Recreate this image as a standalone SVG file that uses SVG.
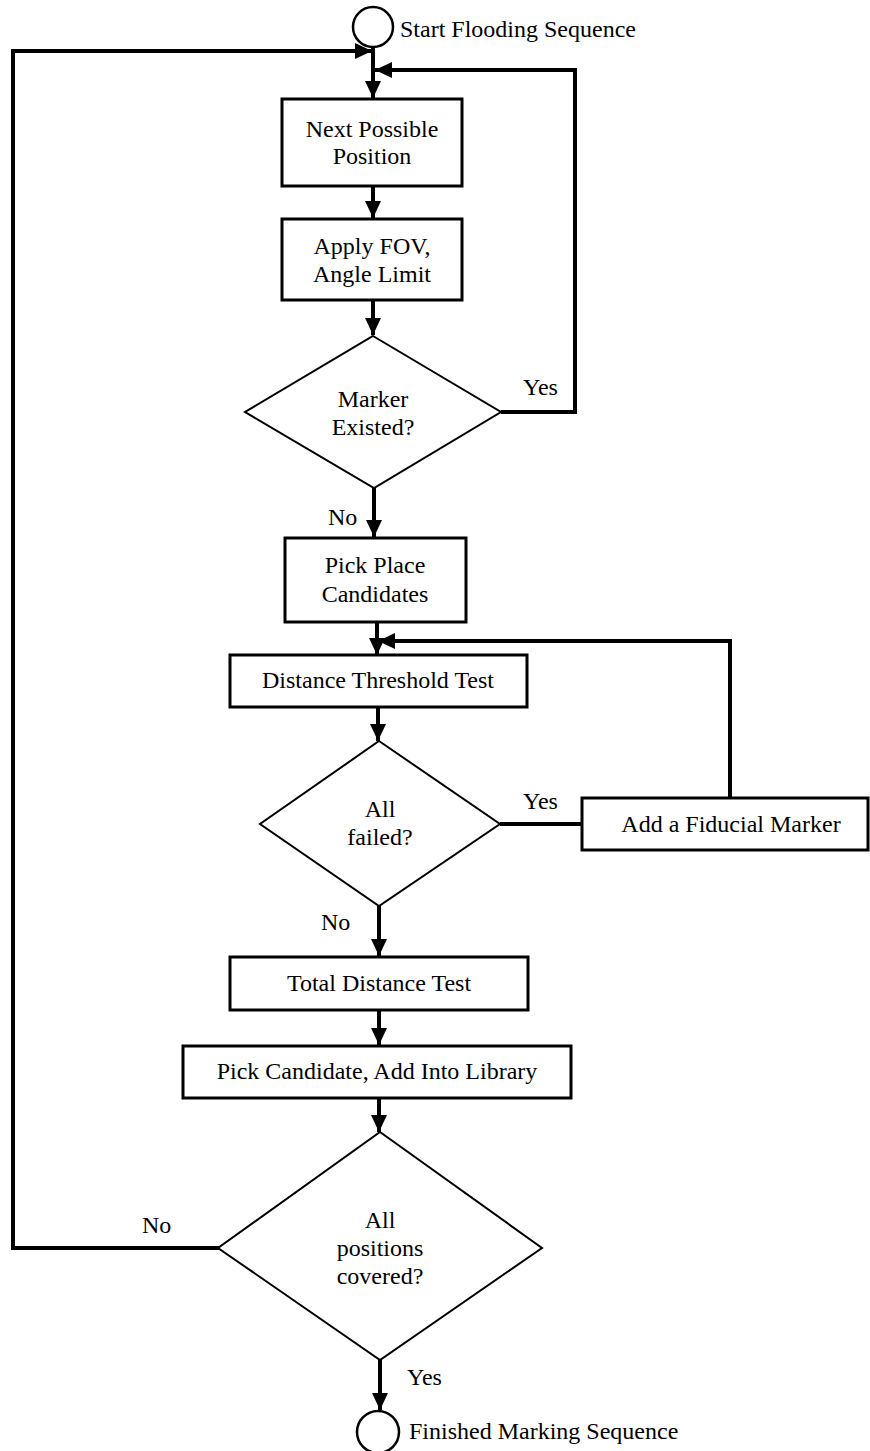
<svg xmlns="http://www.w3.org/2000/svg" width="870" height="1451" viewBox="0 0 870 1451">
<style>
  .box{fill:#fff;stroke:#000;stroke-width:3}
  .dia{fill:#fff;stroke:#000;stroke-width:2}
  .term{fill:#fff;stroke:#000;stroke-width:2.5}
  .conn{fill:none;stroke:#000;stroke-width:4;stroke-linejoin:miter}
  .arr{marker-end:url(#ah)}
  text{font-family:"Liberation Serif","Times New Roman",serif;font-size:24px;fill:#000}
  .c{text-anchor:middle}
</style>
<defs>
  <marker id="ah" markerUnits="userSpaceOnUse" markerWidth="18" markerHeight="16" refX="17" refY="8" orient="auto">
    <path d="M0,0 L17,8 L0,16 Z" fill="#000"/>
  </marker>
</defs>
<g id="connectors">
  <path class="conn arr" d="M373,47 L373,98"/>
  <path class="conn arr" d="M220,1248 L13,1248 L13,51 L372,51"/>
  <path class="conn arr" d="M501,412 L575,412 L575,70 L375,70"/>
  <path class="conn arr" d="M373,186 L373,218"/>
  <path class="conn arr" d="M373,300 L373,335"/>
  <path class="conn arr" d="M374,488 L374,537"/>
  <path class="conn arr" d="M377,622 L377,655"/>
  <path class="conn arr" d="M730,798 L730,641 L378,641"/>
  <path class="conn arr" d="M378,707 L378,741"/>
  <path class="conn" d="M500,824 L582,824"/>
  <path class="conn arr" d="M379,906 L379,956"/>
  <path class="conn arr" d="M379,1010 L379,1045"/>
  <path class="conn arr" d="M379,1098 L379,1132"/>
  <path class="conn arr" d="M380,1360 L380,1410"/>
  <text x="523" y="395">Yes</text>
  <text x="328" y="525">No</text>
  <text x="523" y="809">Yes</text>
  <text x="321" y="930">No</text>
  <text x="142" y="1233">No</text>
  <text x="407" y="1385">Yes</text>
</g>
<g id="start">
  <circle class="term" cx="373" cy="27" r="20"/>
  <text x="400" y="37">Start Flooding Sequence</text>
</g>
<g id="next-position">
  <rect class="box" x="282" y="99" width="180" height="87"/>
  <text class="c" x="372" y="137">Next Possible</text>
  <text class="c" x="372" y="164">Position</text>
</g>
<g id="apply-fov">
  <rect class="box" x="282" y="219" width="180" height="81"/>
  <text class="c" x="372" y="254">Apply FOV,</text>
  <text class="c" x="372" y="282">Angle Limit</text>
</g>
<g id="marker-existed">
  <polygon class="dia" points="373,336 501,412 374,488 245,412"/>
  <text class="c" x="373" y="407">Marker</text>
  <text class="c" x="373" y="435">Existed?</text>
</g>
<g id="pick-place">
  <rect class="box" x="285" y="538" width="181" height="84"/>
  <text class="c" x="375" y="573">Pick Place</text>
  <text class="c" x="375" y="602">Candidates</text>
</g>
<g id="distance-threshold">
  <rect class="box" x="230" y="655" width="297" height="52"/>
  <text class="c" x="378" y="688">Distance Threshold Test</text>
</g>
<g id="all-failed">
  <polygon class="dia" points="379,741 500,824 379,906 260,824"/>
  <text class="c" x="380" y="817">All</text>
  <text class="c" x="380" y="845">failed?</text>
</g>
<g id="add-fiducial">
  <rect class="box" x="582" y="798" width="286" height="52"/>
  <text class="c" x="731" y="832">Add a Fiducial Marker</text>
</g>
<g id="total-distance">
  <rect class="box" x="230" y="957" width="298" height="53"/>
  <text class="c" x="379" y="991">Total Distance Test</text>
</g>
<g id="pick-candidate">
  <rect class="box" x="183" y="1046" width="388" height="52"/>
  <text class="c" x="377" y="1079">Pick Candidate, Add Into Library</text>
</g>
<g id="all-covered">
  <polygon class="dia" points="380,1132 542,1248 380,1360 218,1248"/>
  <text class="c" x="380" y="1228">All</text>
  <text class="c" x="380" y="1256">positions</text>
  <text class="c" x="380" y="1284">covered?</text>
</g>
<g id="finish">
  <circle class="term" cx="378" cy="1432" r="21"/>
  <text x="409" y="1439">Finished Marking Sequence</text>
</g>
</svg>
